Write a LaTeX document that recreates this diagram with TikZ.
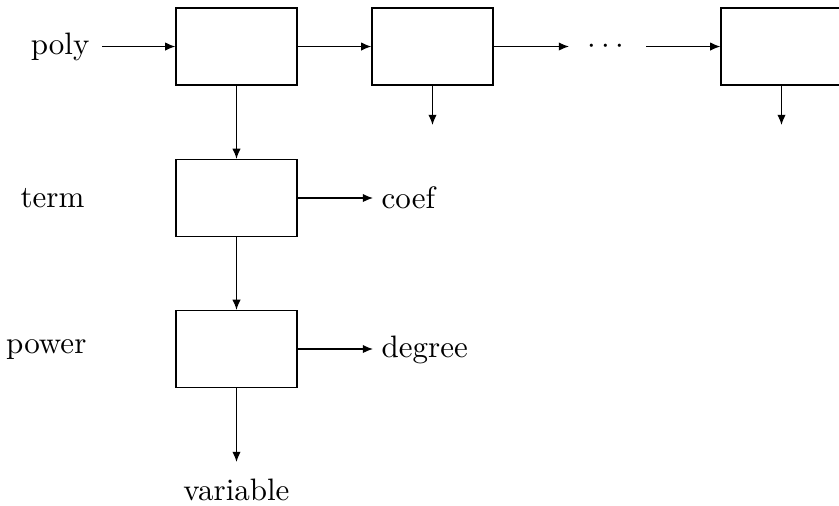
\documentclass[tikz,border=0pt]{standalone}
\usetikzlibrary{arrows.meta}
\begin{document}
\begin{tikzpicture}[x=0.3226pt,y=-0.3226pt,
  cell/.style={draw,line width=0.4pt,minimum width=121*0.3226pt,minimum height=77*0.3226pt,inner sep=0pt},
  lbl/.style={inner sep=0pt,font=\fontsize{10pt}{12pt}\selectfont},
  link/.style={-{Latex[length=3.3pt,width=2.7pt]},line width=0.4pt}]
\useasboundingbox (0,0) rectangle (839,505);
% top row of list cells
\node[cell] (c1) at (236.5,46.5) {};
\node[cell] (c2) at (432.5,46.5) {};
\node[cell] (cn) at (781.5,46.5) {};
\node[lbl,anchor=east] (poly) at (90,47) {poly};
\node[lbl] (dots) at (606,47) {$\cdots$};
\coordinate (polyend) at (102,46.5);
\coordinate (d2) at (432.5,125);
\coordinate (dn) at (781.5,125);
\coordinate (dotsin) at (569,46.5);
\coordinate (dotsout) at (646,46.5);
\draw[link] (polyend) -- (c1.west);
\draw[link] (c1.east) -- (c2.west);
\draw[link] (c2.east) -- (dotsin);
\draw[link] (dotsout) -- (cn.west);
\draw[link] (c2.south) -- (d2);
\draw[link] (cn.south) -- (dn);
% term cell
\node[cell] (t) at (236.5,198) {};
\node[lbl,anchor=east] (term) at (85,198) {term};
\node[lbl,anchor=west] (coef) at (381,198) {coef};
\coordinate (coefend) at (373,198);
\draw[link] (c1.south) -- (t.north);
\draw[link] (t.east) -- (coefend);
% power cell
\node[cell] (p) at (236.5,349) {};
\node[lbl,anchor=east] (power) at (87,350) {power};
\node[lbl,anchor=west] (degree) at (381,350) {degree};
\coordinate (degend) at (373,349);
\draw[link] (t.south) -- (p.north);
\draw[link] (p.east) -- (degend);
\node[lbl] (var) at (236.5,490) {variable};
\coordinate (varend) at (236.5,462);
\draw[link] (p.south) -- (varend);
\end{tikzpicture}
\end{document}
